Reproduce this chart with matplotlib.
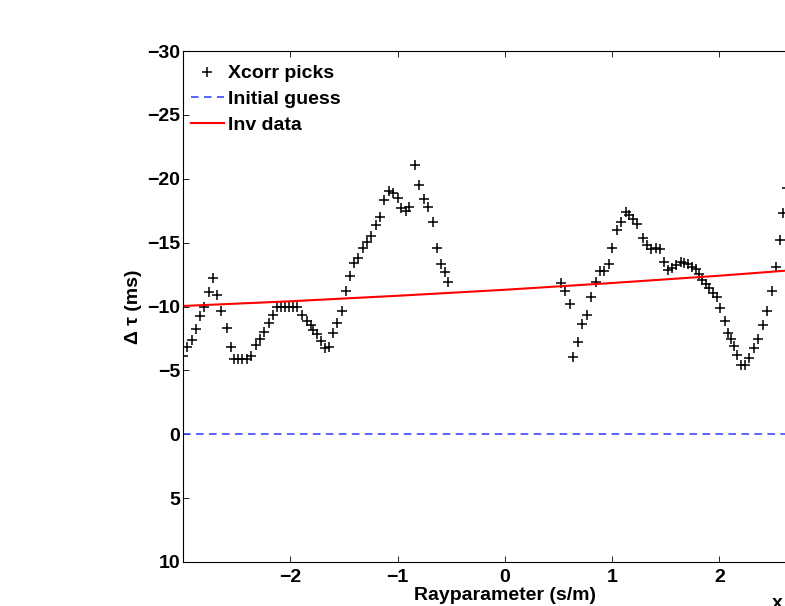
import matplotlib
matplotlib.use("Agg")
import matplotlib.pyplot as plt

plt.rcParams['font.family'] = ['Liberation Sans', 'DejaVu Sans']
plt.rcParams['font.weight'] = 'bold'
plt.rcParams['axes.labelweight'] = 'bold'
plt.rcParams['font.size'] = 14

# Xcorr picks, rayparameter in units of 1e-4 s/m, delta tau in ms
pick_p = [
    -2.998, -2.961, -2.920, -2.883, -2.842, -2.805, -2.761, -2.724, -2.681, -2.644,
    -2.594, -2.556, -2.523, -2.486, -2.448, -2.407, -2.367, -2.321, -2.283, -2.246,
    -2.202, -2.159, -2.128, -2.090, -2.053, -2.016, -1.979, -1.941, -1.889, -1.848,
    -1.811, -1.787, -1.755, -1.718, -1.678, -1.637, -1.606, -1.563, -1.522, -1.477,
    -1.440, -1.407, -1.367, -1.326, -1.289, -1.246, -1.202, -1.165, -1.125, -1.078,
    -1.041, -0.997, -0.966, -0.923, -0.892, -0.836, -0.799, -0.755, -0.720, -0.674,
    -0.637, -0.596, -0.559, -0.528,
    0.522, 0.559, 0.606, 0.637, 0.683, 0.720, 0.767, 0.804, 0.845, 0.885,
    0.923, 0.966, 1.000, 1.047, 1.081, 1.125, 1.156, 1.190, 1.233, 1.283,
    1.321, 1.361, 1.407, 1.445, 1.482, 1.519, 1.554, 1.594, 1.637, 1.671,
    1.708, 1.746, 1.777, 1.811, 1.839, 1.870, 1.904, 1.936, 1.973, 2.004,
    2.050, 2.081, 2.106, 2.134, 2.165, 2.197, 2.237, 2.277, 2.321, 2.355,
    2.407, 2.439, 2.486, 2.523, 2.568, 2.596, 2.628,
]
pick_dtau = [
    -6.13, -6.81, -7.38, -8.22, -9.26, -9.98, -11.11, -12.21, -10.90, -9.65,
    -8.29, -6.81, -5.89, -5.87, -5.87, -5.87, -6.13, -6.99, -7.48, -8.03,
    -8.73, -9.33, -9.94, -9.94, -9.94, -9.94, -9.94, -9.94, -9.33, -8.86,
    -8.55, -8.16, -7.82, -7.32, -6.77, -6.85, -7.95, -8.68, -9.67, -11.25,
    -12.39, -13.38, -13.77, -14.56, -15.07, -15.52, -16.38, -17.03, -18.34, -19.06,
    -18.91, -18.47, -17.69, -17.48, -17.81, -21.08, -19.51, -18.39, -17.81, -16.64,
    -14.56, -13.33, -12.72, -11.89,
    -11.82, -11.24, -10.17, -6.07, -7.24, -8.61, -9.33, -10.72, -11.94, -12.80,
    -12.78, -13.30, -14.60, -15.99, -16.64, -17.42, -17.16, -16.83, -16.43, -15.39,
    -14.81, -14.48, -14.56, -14.48, -13.51, -12.82, -13.04, -13.25, -13.51, -13.43,
    -13.33, -13.12, -12.91, -12.54, -12.07, -11.74, -11.42, -11.08, -10.72, -9.86,
    -8.86, -7.90, -7.43, -6.91, -6.20, -5.42, -5.42, -5.95, -6.73, -7.48,
    -8.55, -9.67, -11.24, -13.07, -15.21, -17.32, -19.28,
]

guess_p = [-3, 3]
guess_dtau = [0, 0]

inv_p = [-3, -2, -1, 0, 1, 2, 3]
inv_dtau = [-10.04, -10.41, -10.84, -11.31, -11.84, -12.41, -13.05]

fig = plt.figure(figsize=(7.85, 6.06), dpi=100)
# axes run past the right edge of the figure, as in the cropped original
ax = fig.add_axes([183 / 785, 44 / 606, 643.8 / 785, 511 / 606])

ax.plot(pick_p, pick_dtau, '+', color='k', markersize=7.5, mew=1.1, label='Xcorr picks')
ax.plot(guess_p, guess_dtau, color='#2b3cff', lw=1.1, ls=(0, (5, 3.5)), label='Initial guess')
ax.plot(inv_p, inv_dtau, color='#ff0000', lw=1.5, label='Inv data')

ax.set_xlim(-3, 3)
ax.set_ylim(10, -30)
ax.set_xticks([-2, -1, 0, 1, 2])
ax.set_yticks([-30, -25, -20, -15, -10, -5, 0, 5, 10])

ax.tick_params(direction='in', length=4, width=0.6, top=True, right=True)
ax.tick_params(axis='x', pad=5)
ax.tick_params(axis='y', pad=2)
for s in ax.spines.values():
    s.set_linewidth(0.8)

ax.set_xlabel('Rayparameter (s/m)', labelpad=1)
ax.set_ylabel('Δ τ (ms)', labelpad=4)

ax.legend(loc='upper left', bbox_to_anchor=(0.012, 0.973), frameon=False,
          borderpad=0, borderaxespad=0, handlelength=1.7, handletextpad=0.2,
          labelspacing=0.42, fontsize=14)

fig.text(771 / 785, -3 / 606, 'x 10$^{-4}$', fontsize=14, va='baseline', ha='left')

fig.savefig('out.png', dpi=100)
